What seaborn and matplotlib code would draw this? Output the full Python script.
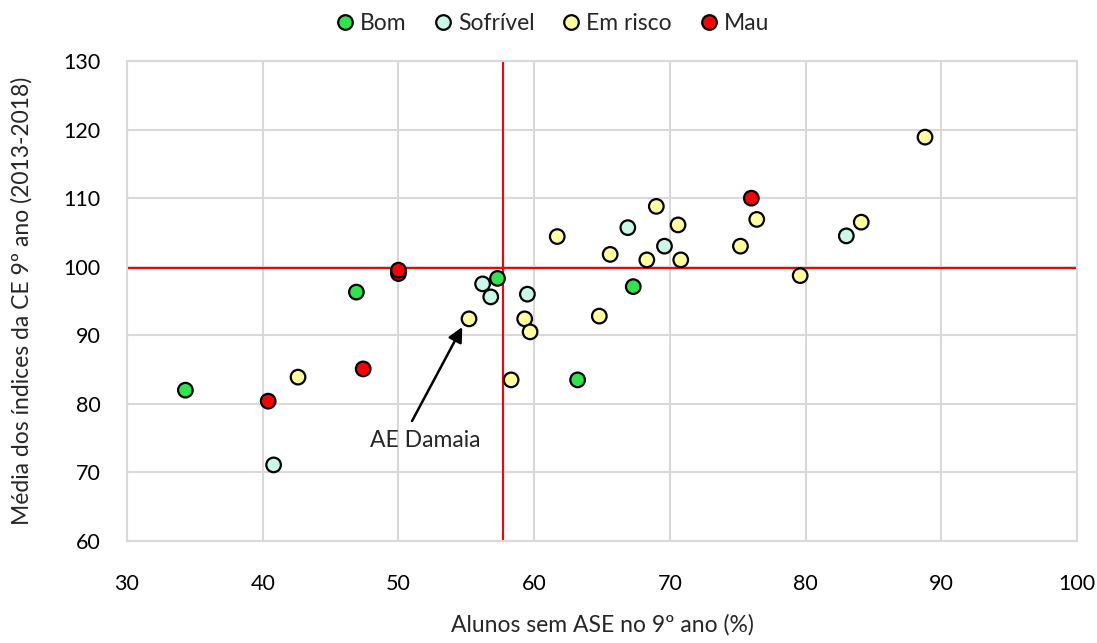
import matplotlib
matplotlib.use("Agg")
import matplotlib.pyplot as plt
import seaborn as sns
import pandas as pd

categories = ["Bom", "Sofrível", "Em risco", "Mau"]

bom_x = [34.3, 46.9, 57.3, 63.2, 67.3]
bom_y = [82.0, 96.3, 98.3, 83.5, 97.1]

sofrivel_x = [40.8, 56.2, 56.8, 59.5, 66.9, 69.6, 83.0]
sofrivel_y = [71.1, 97.5, 95.6, 96.0, 105.7, 103.0, 104.5]

risco_x = [42.6, 55.2, 58.3, 59.3, 59.7, 61.7, 64.8, 65.6, 68.3, 69.0,
           70.6, 70.8, 75.2, 76.4, 79.6, 84.1, 88.8]
risco_y = [83.9, 92.4, 83.5, 92.4, 90.5, 104.4, 92.8, 101.8, 101.0, 108.8,
           106.1, 101.0, 103.0, 106.9, 98.7, 106.5, 118.9]

mau_x = [40.4, 47.4, 50.0, 50.0, 76.0]
mau_y = [80.4, 85.1, 99.0, 99.5, 110.0]

ref_x = 57.7
ref_y = 99.8

annot_label = "AE Damaia"
annot_text_pos = (52.0, 74.6)
arrow_tail = (51.0, 77.5)
arrow_head = (54.7, 91.2)

colors = {"Bom": "#2EE64B", "Sofrível": "#C8F8E6", "Em risco": "#FFFF9E", "Mau": "#FF0000"}

rows = []
for cat, xs, ys in [("Bom", bom_x, bom_y), ("Sofrível", sofrivel_x, sofrivel_y),
                    ("Em risco", risco_x, risco_y), ("Mau", mau_x, mau_y)]:
    for x, y in zip(xs, ys):
        rows.append({"x": x, "y": y, "cat": cat})
df = pd.DataFrame(rows)

sns.set_style("white")
plt.rcParams["font.family"] = ["Lato", "DejaVu Sans"]

fig = plt.figure(figsize=(10.97, 6.43), dpi=100)
ax = fig.add_axes([0.1158, 0.1586, 0.866, 0.7465])

ax.axvline(ref_x, color="#FF0000", lw=1.5, zorder=2)
ax.axhline(ref_y, color="#FF0000", lw=1.5, zorder=2)

sns.scatterplot(data=df, x="x", y="y", hue="cat", hue_order=categories,
                palette=colors, s=110, edgecolor="black", linewidth=1.6,
                ax=ax, zorder=3, legend=False)

ax.set_xlim(30, 100)
ax.set_ylim(60, 130)
ax.set_xticks(range(30, 101, 10))
ax.set_yticks(range(60, 131, 10))
ax.grid(True, color="#D9D9D9", lw=1.5, zorder=0)
ax.set_axisbelow(True)
for s in ax.spines.values():
    s.set_color("#D9D9D9")
    s.set_linewidth(1.5)
ax.tick_params(axis="both", length=0, labelsize=15.5, colors="#000000")
ax.tick_params(axis="x", pad=24)
ax.tick_params(axis="y", pad=19)
ax.set_xlabel("Alunos sem ASE no 9º ano (%)", fontsize=16.5, labelpad=14)
ax.set_ylabel("Média dos índices da CE 9º ano (2013-2018)", fontsize=16.5, labelpad=22)

ax.text(annot_text_pos[0], annot_text_pos[1], annot_label, fontsize=16.5,
        ha="center", va="center")
ax.annotate("", xy=arrow_head, xytext=arrow_tail,
            arrowprops=dict(arrowstyle="-|>", color="black", lw=1.8,
                            mutation_scale=22, shrinkA=0, shrinkB=0))

handles = [plt.Line2D([], [], marker="o", ls="", markersize=10.5,
                      markerfacecolor=colors[c], markeredgecolor="black",
                      markeredgewidth=1.6, label=c) for c in categories]
fig.legend(handles=handles, loc="upper center", bbox_to_anchor=(0.504, 1.012),
           ncol=4, frameon=False, fontsize=16.5, handlelength=0.7,
           handletextpad=0.3, columnspacing=1.25)

fig.savefig("out.png", dpi=100)
